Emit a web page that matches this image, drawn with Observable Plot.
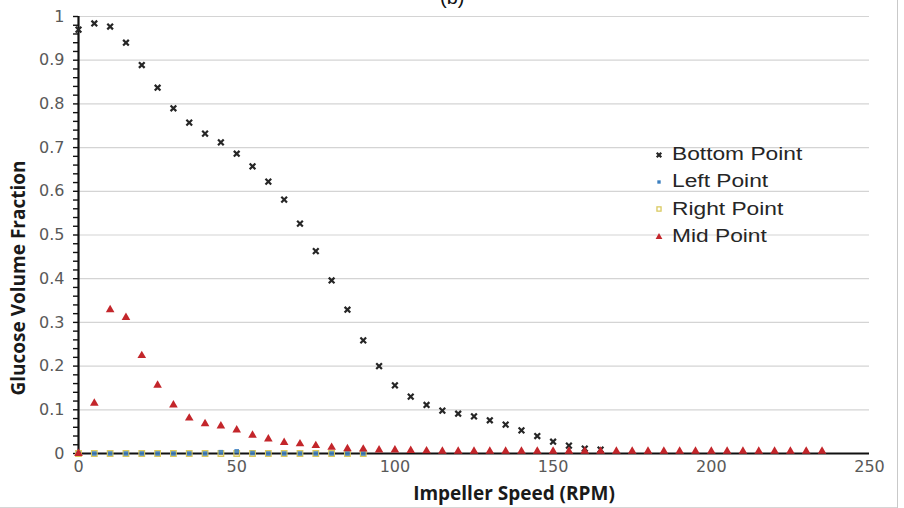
<!DOCTYPE html>
<html>
<head>
<meta charset="utf-8">
<script src="https://cdn.jsdelivr.net/npm/d3@7"></script>
<script src="https://cdn.jsdelivr.net/npm/@observablehq/plot@0.6"></script>
<style>
  html, body { margin: 0; padding: 0; background: #fff; }
  #fig { position: relative; width: 904px; height: 508px; overflow: hidden; background: #fff; }
  #panel { position: absolute; left: 440px; top: -13px;
           font: 20px "Liberation Sans", Arial, sans-serif; line-height: 20px; color: #111; }
  #legend { position: absolute; left: 652px; top: 141px; font-family: "Liberation Sans", Arial, sans-serif;
            font-size: 17.5px; color: #262626; }
  #legend .row { display: flex; align-items: center; height: 27.3px; }
  #legend svg { width: 14px; height: 14px; margin-right: 6px; }
  #legend span { display: inline-block; transform: scaleX(1.3); transform-origin: left center; white-space: nowrap; }
  .edge-v { position: absolute; left: 897px; top: 0; width: 1px; height: 508px; background: #c9c9c9; }
  .edge-h { position: absolute; left: 0; top: 507px; width: 897px; height: 1px; background: #d6d6d6; }
</style>
</head>
<body>
<div id="fig">
  <div id="chart"></div>
  <div id="panel">(b)</div>
  <div id="legend"></div>
  <div class="edge-v"></div>
  <div class="edge-h"></div>
</div>
<script>
// Impeller speeds (RPM) at which each monitoring point was sampled
const bottomRpm = [0, 5, 10, 15, 20, 25, 30, 35, 40, 45, 50, 55, 60, 65, 70, 75, 80, 85, 90, 95,
  100, 105, 110, 115, 120, 125, 130, 135, 140, 145, 150, 155, 160, 165];
const bottomFrac = [0.970, 0.984, 0.977, 0.940, 0.889, 0.837, 0.790, 0.757, 0.732, 0.712, 0.686,
  0.657, 0.622, 0.581, 0.526, 0.463, 0.396, 0.329, 0.259, 0.200, 0.156, 0.130, 0.111, 0.098,
  0.091, 0.085, 0.076, 0.066, 0.053, 0.040, 0.027, 0.018, 0.011, 0.009];

const sideRpm = [0, 5, 10, 15, 20, 25, 30, 35, 40, 45, 50, 55, 60, 65, 70, 75, 80, 85, 90];
const leftFrac = [0, 0, 0, 0, 0, 0, 0, 0, 0, 0.003, 0.005, 0.001, 0, 0, 0, 0, 0, 0, 0];
const rightFrac = [0, 0, 0, 0, 0, 0, 0, 0, 0, 0, 0, 0, 0, 0, 0, 0, 0, 0, 0];

const midRpm = [0, 5, 10, 15, 20, 25, 30, 35, 40, 45, 50, 55, 60, 65, 70, 75, 80, 85, 90, 95,
  100, 105, 110, 115, 120, 125, 130, 135, 140, 145, 150, 155, 160, 165, 170, 175, 180, 185,
  190, 195, 200, 205, 210, 215, 220, 225, 230, 235];
const midFrac = [0, 0.115, 0.329, 0.311, 0.224, 0.156, 0.111, 0.081, 0.068, 0.063, 0.054, 0.042,
  0.033, 0.025, 0.022, 0.018, 0.014, 0.011, 0.010, 0.008, 0.008, 0.007, 0.006, 0.005, 0.005,
  0.005, 0.005, 0.005, 0.005, 0.005, 0.005, 0.005, 0.005, 0.005, 0.005, 0.005, 0.005, 0.005,
  0.005, 0.005, 0.005, 0.005, 0.005, 0.005, 0.005, 0.005, 0.005, 0.005];

// Axis ticks
const xTicks = [0, 50, 100, 150, 200, 250];
const yTicks = [0, 0.1, 0.2, 0.3, 0.4, 0.5, 0.6, 0.7, 0.8, 0.9, 1];
const yGrid = [0.1, 0.2, 0.3, 0.4, 0.5, 0.6, 0.7, 0.8, 0.9, 1];
const yMinor = [0, 0.02, 0.04, 0.06, 0.08, 0.1, 0.12, 0.14, 0.16, 0.18, 0.2, 0.22, 0.24, 0.26,
  0.28, 0.3, 0.32, 0.34, 0.36, 0.38, 0.4, 0.42, 0.44, 0.46, 0.48, 0.5, 0.52, 0.54, 0.56, 0.58,
  0.6, 0.62, 0.64, 0.66, 0.68, 0.7, 0.72, 0.74, 0.76, 0.78, 0.8, 0.82, 0.84, 0.86, 0.88, 0.9,
  0.92, 0.94, 0.96, 0.98, 1];

const xTitle = "Impeller Speed (RPM)";
const yTitle = "Glucose Volume Fraction";

const toRows = (rpm, frac) => rpm.map((r, i) => ({rpm: r, frac: frac[i]}));
const bottom = toRows(bottomRpm, bottomFrac);
const left = toRows(sideRpm, leftFrac);
const right = toRows(sideRpm, rightFrac);
const mid = toRows(midRpm, midFrac);

// Marker styles per monitoring point (r = plot size, lr = legend swatch size)
const series = [
  {name: "Bottom Point", symbol: "times", fill: "none", stroke: "#262626", r: 2.7, lr: 2.2, sw: 2.2},
  {name: "Left Point", symbol: "square", fill: "#3b7fbf", stroke: "none", r: 2.6, lr: 1.9, sw: 0},
  {name: "Right Point", symbol: "square", fill: "none", stroke: "#d9c95e", r: 3.1, lr: 2.3, sw: 1.3},
  {name: "Mid Point", symbol: "triangle", fill: "#c3262b", stroke: "none", r: 3.2, lr: 2.5, sw: 0}
];

const tickFont = {fontFamily: "DejaVu Sans", fontSize: 16};
const titleFont = {fontFamily: "Open Sans", fontWeight: "bold", fontSize: 19, letterSpacing: "0.3px", fill: "#1a1a1a"};

const chart = Plot.plot({
  width: 904,
  height: 508,
  marginLeft: 78,
  marginRight: 35,
  marginTop: 16,
  marginBottom: 55,
  style: {background: "transparent", overflow: "visible"},
  x: {domain: [0, 250]},
  y: {domain: [0, 1]},
  marks: [
    Plot.gridY(yGrid, {stroke: "#d4d4d4", strokeOpacity: 1, strokeWidth: 1.2}),
    Plot.axisY(yMinor, {tickSize: 5, tickFormat: () => "", stroke: "#111", strokeWidth: 1.4, label: null}),
    Plot.axisY(yTicks, {tickSize: 0, tickPadding: 14, tickFormat: d => String(d), label: null,
      fill: "#595959", ...tickFont, letterSpacing: "0.6px"}),
    Plot.axisX(xTicks, {tickSize: 0, tickPadding: 7, label: null,
      fill: "#595959", ...tickFont, letterSpacing: "0.6px"}),
    Plot.ruleY([0], {stroke: "#111", strokeWidth: 2}),
    Plot.ruleX([0], {stroke: "#111", strokeWidth: 2.2}),
    Plot.dot(right, {x: "rpm", y: "frac", symbol: () => series[2].symbol, r: series[2].r,
      fill: series[2].fill, stroke: series[2].stroke, strokeWidth: series[2].sw}),
    Plot.dot(left, {x: "rpm", y: "frac", symbol: () => series[1].symbol, r: series[1].r,
      fill: series[1].fill, stroke: series[1].stroke, fillOpacity: 0.85}),
    Plot.dot(bottom, {x: "rpm", y: "frac", symbol: () => series[0].symbol, r: series[0].r,
      fill: series[0].fill, stroke: series[0].stroke, strokeWidth: series[0].sw}),
    Plot.dot(mid, {x: "rpm", y: "frac", symbol: () => series[3].symbol, r: series[3].r,
      fill: series[3].fill, stroke: series[3].stroke}),
    Plot.text([xTitle], {frameAnchor: "bottom", textAnchor: "middle", lineAnchor: "middle",
      dx: 40, dy: 40, ...titleFont}),
    Plot.text([yTitle], {frameAnchor: "left", textAnchor: "middle", lineAnchor: "middle",
      rotate: -90, dx: -60, dy: 43, ...titleFont})
  ]
});
document.getElementById("chart").appendChild(chart);

// Legend rows with matching marker swatches
const symbolTypes = {times: d3.symbolTimes, square: d3.symbolSquare, triangle: d3.symbolTriangle};
const legend = d3.select("#legend");
for (const s of series) {
  const row = legend.append("div").attr("class", "row");
  const svg = row.append("svg").attr("viewBox", "-7 -7 14 14");
  svg.append("path")
    .attr("d", d3.symbol(symbolTypes[s.symbol], s.lr * s.lr * Math.PI)())
    .attr("fill", s.fill)
    .attr("stroke", s.stroke)
    .attr("stroke-width", s.sw || null);
  row.append("span").text(s.name);
}
</script>
</body>
</html>
